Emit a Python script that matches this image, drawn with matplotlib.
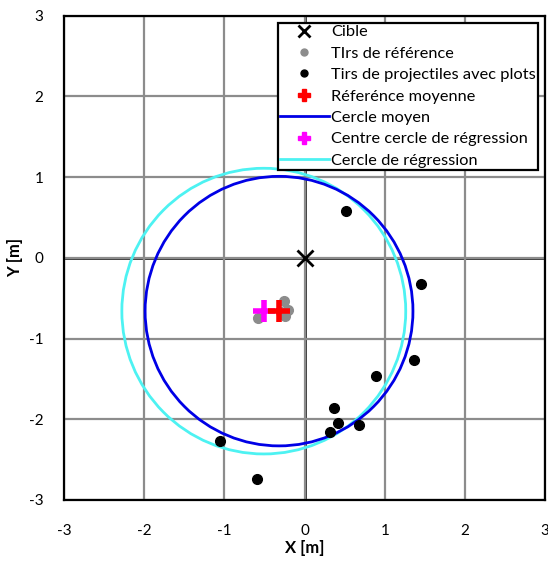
import matplotlib
matplotlib.use("Agg")
import matplotlib.pyplot as plt
from matplotlib.patches import Circle
from matplotlib.lines import Line2D

plt.rcParams['font.family'] = ['Lato', 'DejaVu Sans']
plt.rcParams['axes.unicode_minus'] = False

# target
cible = (0.0, 0.0)
# reference shots (grey)
ref_x = [-0.26, -0.21, -0.25, -0.58, -0.30]
ref_y = [-0.54, -0.65, -0.72, -0.74, -0.67]
# projectile shots with plots (black)
tir_x = [0.51, 1.45, 1.36, 0.89, 0.36, 0.41, 0.31, 0.68, -1.05, -0.59]
tir_y = [0.58, -0.33, -1.27, -1.47, -1.86, -2.05, -2.16, -2.07, -2.27, -2.74]
# mean reference / mean circle
ref_moy = (-0.32, -0.66)
r_moy = 1.67
# regression circle
centre_reg = (-0.51, -0.66)
r_reg = 1.77

fig = plt.figure(figsize=(5.48, 5.63), dpi=100)
ax = fig.add_axes([0.117, 0.112, 0.878, 0.86])
ax.set_xlim(-3, 3)
ax.set_ylim(-3, 3)
ticks = [-3, -2, -1, 0, 1, 2, 3]
ax.set_xticks(ticks)
ax.set_yticks(ticks)
ax.grid(True, color="#8c8c8c", lw=1.6, zorder=0)
ax.axhline(0, color="black", lw=1.8, zorder=1)
ax.axvline(0, color="black", lw=1.8, zorder=1)
for s in ax.spines.values():
    s.set_linewidth(1.6)
ax.tick_params(length=0, labelsize=11)
ax.tick_params(axis="x", pad=17)
ax.tick_params(axis="y", pad=15)

ax.add_patch(Circle(centre_reg, r_reg, fill=False, ec="#4df2f2", lw=2, zorder=3))
ax.add_patch(Circle(ref_moy, r_moy, fill=False, ec="#0000e6", lw=2, zorder=3))

ax.plot(*cible, marker="x", color="black", ms=11, mew=2, ls="none", zorder=5)
ax.plot(ref_x, ref_y, "o", color="#8c8c8c", ms=7, ls="none", zorder=4)
ax.plot(tir_x, tir_y, "o", color="black", ms=7, ls="none", zorder=4)
ax.plot(*ref_moy, marker="+", color="red", ms=16, mew=4, ls="none", zorder=6)
ax.plot(*centre_reg, marker="+", color="magenta", ms=16, mew=4, ls="none", zorder=5)

ax.set_xlabel("X [m]", fontweight="bold", fontsize=12, labelpad=2)
ax.set_ylabel("Y [m]", fontweight="bold", fontsize=12, labelpad=4)

handles = [
    Line2D([], [], marker="x", color="black", ms=8, mew=2, ls="none"),
    Line2D([], [], marker="o", color="#8c8c8c", ms=5, ls="none"),
    Line2D([], [], marker="o", color="black", ms=5, ls="none"),
    Line2D([], [], marker="P", color="red", ms=8, ls="none"),
    Line2D([], [], color="#0000e6", lw=2),
    Line2D([], [], marker="P", color="magenta", ms=8, ls="none"),
    Line2D([], [], color="#4df2f2", lw=2),
]
labels = ["Cible", "TIrs de référence", "Tirs de projectiles avec plots",
          "Réferénce moyenne", "Cercle moyen", "Centre cercle de régression",
          "Cercle de régression"]
leg = ax.legend(handles, labels, loc="upper right", bbox_to_anchor=(0.985, 0.985),
                fontsize=11.8, fancybox=False, edgecolor="black", framealpha=1,
                borderpad=0.12, labelspacing=0.42, handlelength=3.0,
                handletextpad=0.15, borderaxespad=0)
leg.get_frame().set_linewidth(1.6)
leg.set_zorder(10)

fig.savefig("out.png", dpi=100)
